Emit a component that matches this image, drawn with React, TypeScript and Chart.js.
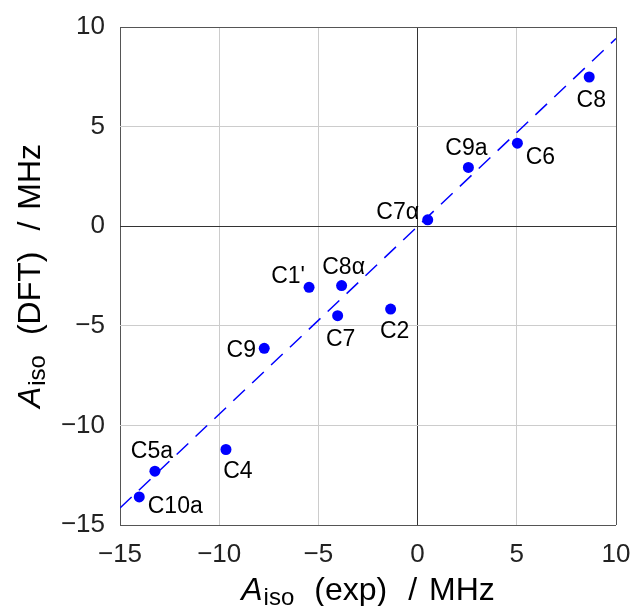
import React, { useEffect, useRef } from 'react';
import { Chart, registerables } from 'chart.js';

Chart.register(...registerables);

// ---- data ----
const pointLabels = ['C8', 'C6', 'C9a', 'C7α', 'C8α', "C1'", 'C7', 'C2', 'C9', 'C4', 'C5a', 'C10a'];
const expValues = [8.65, 5.03, 2.56, 0.51, -3.83, -5.47, -4.03, -1.36, -7.73, -9.66, -13.24, -14.03];
const dftValues = [7.49, 4.17, 2.95, 0.32, -2.98, -3.07, -4.49, -4.16, -6.13, -11.21, -12.3, -13.59];
const fitX = [-15, 10];
const fitY = [-14.15, 9.42];
const axisMin = -15;
const axisMax = 10;
const tickStep = 5;

// label placement (offset of label centre from its point, px)
const labelOffsets: [number, number][] = [
  [2, 22], [23, 13], [-2, -21], [-30, -9], [2, -20], [-21, -13],
  [3, 22], [4, 21], [-23, 0], [12, 20], [-3, -21], [36, 8],
];

const FONT = '"Liberation Sans", Arial, sans-serif';

type Part = { text: string; font: string; dy?: number; gap?: number };

function drawRich(ctx: CanvasRenderingContext2D, parts: Part[], cx: number, cy: number, rotate: boolean) {
  ctx.save();
  ctx.translate(cx, cy);
  if (rotate) ctx.rotate(-Math.PI / 2);
  ctx.textAlign = 'left';
  ctx.textBaseline = 'alphabetic';
  ctx.fillStyle = '#000';
  const widths = parts.map((p) => {
    ctx.font = p.font;
    return ctx.measureText(p.text).width;
  });
  const total = parts.reduce((s, p, i) => s + (p.gap || 0) + widths[i], 0);
  let x = -total / 2;
  parts.forEach((p, i) => {
    x += p.gap || 0;
    ctx.font = p.font;
    ctx.fillText(p.text, x, p.dy || 0);
    x += widths[i];
  });
  ctx.restore();
}

const big = `32px ${FONT}`;
const sub = `24px ${FONT}`;
const xTitle: Part[] = [
  { text: 'A', font: `italic ${big}` },
  { text: 'iso', font: sub, dy: 5, gap: 1 },
  { text: '(exp)', font: big, gap: 20 },
  { text: '/', font: big, gap: 21 },
  { text: 'MHz', font: big, gap: 12 },
];
const yTitle: Part[] = [
  { text: 'A', font: `italic ${big}` },
  { text: 'iso', font: sub, dy: 5, gap: 1 },
  { text: '(DFT)', font: big, gap: 20 },
  { text: '/', font: big, gap: 21 },
  { text: 'MHz', font: big, gap: 12 },
];

const annotPlugin = {
  id: 'annot',
  afterDatasetsDraw(chart: any) {
    const ctx: CanvasRenderingContext2D = chart.ctx;
    const meta = chart.getDatasetMeta(0);
    ctx.save();
    ctx.font = `23px ${FONT}`;
    ctx.fillStyle = '#000';
    ctx.textAlign = 'center';
    ctx.textBaseline = 'alphabetic';
    meta.data.forEach((el: any, i: number) => {
      const [dx, dy] = labelOffsets[i];
      ctx.fillText(pointLabels[i], el.x + dx, el.y + dy + 0.358 * 23);
    });
    ctx.restore();
  },
  afterDraw(chart: any) {
    const ctx: CanvasRenderingContext2D = chart.ctx;
    const a = chart.chartArea;
    drawRich(ctx, xTitle, (a.left + a.right) / 2, 600, false);
    drawRich(ctx, yTitle, 40, (a.top + a.bottom) / 2, true);
  },
};

const fmt = (v: number | string) => String(v).replace('-', '−');

const gridColor = (c: any) => {
  const v = c.tick && c.tick.value;
  if (v === 0) return '#333';
  if (v === axisMin || v === axisMax) return '#555';
  return '#cccccc';
};

export default function App() {
  const ref = useRef<HTMLCanvasElement>(null);
  useEffect(() => {
    if (!ref.current) return;
    const chart = new Chart(ref.current, {
      type: 'scatter',
      data: {
        datasets: [
          {
            data: expValues.map((x, i) => ({ x, y: dftValues[i] })),
            backgroundColor: '#0000ff',
            borderWidth: 0,
            pointRadius: 5.5,
            pointHoverRadius: 5.5,
          },
          {
            data: fitX.map((x, i) => ({ x, y: fitY[i] })),
            showLine: true,
            borderColor: '#0000ff',
            borderWidth: 1.5,
            borderDash: [16, 10],
            pointRadius: 0,
          },
        ],
      },
      options: {
        animation: false,
        responsive: false,
        devicePixelRatio: 1,
        layout: { padding: { top: 27, right: 18, left: 0, bottom: 0 } },
        plugins: { legend: { display: false }, tooltip: { enabled: false } },
        scales: {
          x: {
            type: 'linear',
            min: axisMin,
            max: axisMax,
            afterFit: (s: any) => { s.height = 81; s.paddingLeft = 0; s.paddingRight = 0; },
            ticks: { stepSize: tickStep, callback: fmt, font: { family: FONT, size: 26 }, color: '#222', padding: 14, maxRotation: 0 },
            grid: { color: gridColor, lineWidth: 1, drawTicks: false },
            border: { display: false },
          },
          y: {
            type: 'linear',
            min: axisMin,
            max: axisMax,
            afterFit: (s: any) => { s.width = 120; s.paddingTop = 0; s.paddingBottom = 0; },
            ticks: { stepSize: tickStep, callback: fmt, font: { family: FONT, size: 26 }, color: '#222', padding: 15 },
            grid: { color: gridColor, lineWidth: 1, drawTicks: false },
            border: { display: false },
          },
        },
      },
      plugins: [annotPlugin],
    });
    return () => chart.destroy();
  }, []);
  return (
    <div style={{ position: 'fixed', left: 0, top: 0, width: 634, height: 606, background: '#fff' }}>
      <canvas ref={ref} width={634} height={606} style={{ width: 634, height: 606, display: 'block' }} />
    </div>
  );
}
